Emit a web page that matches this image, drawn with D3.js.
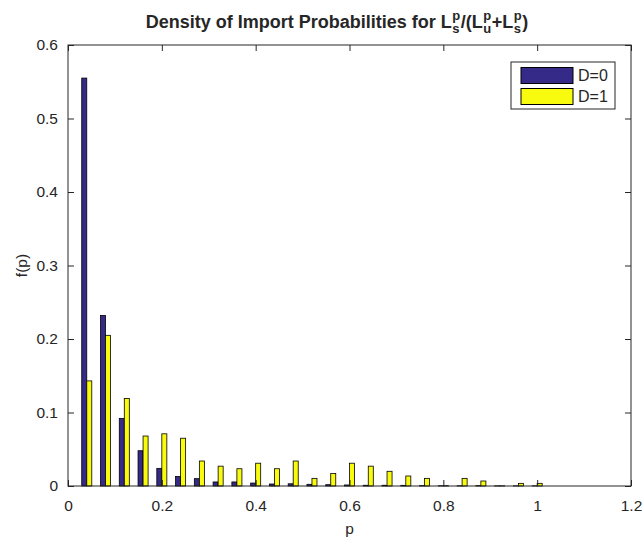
<!DOCTYPE html>
<html>
<head>
<meta charset="utf-8">
<script src="https://cdn.jsdelivr.net/npm/d3@7"></script>
<style>
  body { margin: 0; background: #fff; }
  text { font-family: "Liberation Sans", Arial, sans-serif; fill: #262626; }
</style>
</head>
<body>
<div id="chart"></div>
<script>
const width = 642;
const height = 541;

// bin centres of the histogram
const centers = [0.04, 0.08, 0.12, 0.16, 0.20, 0.24, 0.28, 0.32, 0.36, 0.40,
  0.44, 0.48, 0.52, 0.56, 0.60, 0.64, 0.68, 0.72, 0.76, 0.80,
  0.84, 0.88, 0.92, 0.96, 1.00];
const d0 = [0.555, 0.232, 0.092, 0.048, 0.024, 0.013, 0.010, 0.0055, 0.0055, 0.004,
  0.0027, 0.003, 0.0023, 0.0018, 0.0014, 0.001, 0.001, 0.0009, 0.0005, 0.0003,
  0.0003, 0.0005, 0.0002, 0.0002, 0.0002];
const d1 = [0.143, 0.205, 0.119, 0.068, 0.071, 0.065, 0.034, 0.027, 0.0235, 0.031,
  0.0235, 0.034, 0.0104, 0.017, 0.031, 0.027, 0.020, 0.0136, 0.0104, 0.0005,
  0.0104, 0.0068, 0.0003, 0.0036, 0.0036];
const seriesNames = ["D=0", "D=1"];
const colors = ["rgb(53,42,135)", "rgb(249,251,14)"];
const xTicks = [0, 0.2, 0.4, 0.6, 0.8, 1, 1.2];
const yTicks = [0, 0.1, 0.2, 0.3, 0.4, 0.5, 0.6];

const margin = { left: 68, top: 45, right: 11, bottom: 55 };
const plotW = width - margin.left - margin.right;
const plotH = height - margin.top - margin.bottom;

const svg = d3
  .select("#chart")
  .append("svg")
  .attr("width", width)
  .attr("height", height);

const x = d3.scaleLinear().domain([0, 1.2]).range([0, plotW]);
const y = d3.scaleLinear().domain([0, 0.6]).range([plotH, 0]);

const g = svg
  .append("g")
  .attr("transform", "translate(" + margin.left + "," + margin.top + ")");

// bars: each series takes one half of the group
const barW = 0.0107;
const series = [d0, d1];
series.forEach((vals, s) => {
  g.append("g")
    .selectAll("rect")
    .data(vals)
    .enter()
    .append("rect")
    .attr("x", (d, i) => x(centers[i] + (s - 1) * barW))
    .attr("y", (d) => y(d))
    .attr("width", x(barW) - x(0))
    .attr("height", (d) => y(0) - y(d))
    .attr("fill", colors[s])
    .attr("stroke", "#000")
    .attr("stroke-width", 0.8);
});

// axes, MATLAB style: box with inward ticks on all four sides
const tick = 6;
const axColor = "#262626";
g.append("rect")
  .attr("x", 0)
  .attr("y", 0)
  .attr("width", plotW)
  .attr("height", plotH)
  .attr("fill", "none")
  .attr("stroke", axColor)
  .attr("stroke-width", 1);

const xAxis = g.append("g").attr("transform", "translate(0," + plotH + ")")
  .call(d3.axisBottom(x).tickValues(xTicks).tickSizeInner(-tick).tickSizeOuter(0).tickPadding(14)
    .tickFormat(d3.format("~g")));
const xAxisTop = g.append("g")
  .call(d3.axisTop(x).tickValues(xTicks).tickSizeInner(-tick).tickSizeOuter(0).tickFormat(""));
const yAxis = g.append("g")
  .call(d3.axisLeft(y).tickValues(yTicks).tickSizeInner(-tick).tickSizeOuter(0).tickPadding(10)
    .tickFormat(d3.format("~g")));
const yAxisRight = g.append("g").attr("transform", "translate(" + plotW + ",0)")
  .call(d3.axisRight(y).tickValues(yTicks).tickSizeInner(-tick).tickSizeOuter(0).tickFormat(""));

[xAxis, xAxisTop, yAxis, yAxisRight].forEach((a) => {
  a.select(".domain").remove();
  a.selectAll("line").attr("stroke", axColor);
  a.selectAll("text").attr("font-size", "15.5px").attr("fill", axColor)
    .style("font-family", "'Liberation Sans', Arial, sans-serif");
});

// axis labels
svg.append("text")
  .attr("x", margin.left + plotW / 2)
  .attr("y", 534)
  .attr("text-anchor", "middle")
  .attr("font-size", "15.5px")
  .text("p");

svg.append("text")
  .attr("transform", "translate(27," + (margin.top + plotH / 2) + ") rotate(-90)")
  .attr("text-anchor", "middle")
  .attr("font-size", "15.5px")
  .text("f(p)");

// title with stacked sub/superscripts
const titleParts = [
  { t: "Density of Import Probabilities for L" },
  { sub: "s", sup: "p" },
  { t: "/(L" },
  { sub: "u", sup: "p" },
  { t: "+L" },
  { sub: "s", sup: "p" },
  { t: ")" },
];
const title = svg.append("g");
let cx = 0;
const tSize = 18;
titleParts.forEach((p) => {
  if (p.t) {
    const el = title.append("text").attr("x", cx).attr("y", 0)
      .attr("font-size", tSize + "px").attr("font-weight", "bold").text(p.t);
    cx += el.node().getComputedTextLength();
  } else {
    const a = title.append("text").attr("x", cx + 0.5).attr("y", 5)
      .attr("font-size", "13px").attr("font-weight", "bold").text(p.sub);
    const b = title.append("text").attr("x", cx + 0.5).attr("y", -8.5)
      .attr("font-size", "13px").attr("font-weight", "bold").text(p.sup);
    cx += Math.max(a.node().getComputedTextLength(), b.node().getComputedTextLength()) + 1;
  }
});
title.attr("transform", "translate(" + (337 - cx / 2) + ",28)");

// legend
const legend = svg.append("g").attr("transform", "translate(511,62)");
legend.append("rect")
  .attr("width", 104)
  .attr("height", 47)
  .attr("fill", "#fff")
  .attr("stroke", axColor)
  .attr("stroke-width", 1);
seriesNames.forEach((name, i) => {
  legend.append("rect")
    .attr("x", 10)
    .attr("y", 5.5 + i * 21)
    .attr("width", 52)
    .attr("height", 16)
    .attr("fill", colors[i])
    .attr("stroke", "#000")
    .attr("stroke-width", 1);
  legend.append("text")
    .attr("x", 67)
    .attr("y", 13.5 + i * 21)
    .attr("dy", "0.35em")
    .attr("font-size", "16px")
    .text(name);
});
</script>
</body>
</html>
